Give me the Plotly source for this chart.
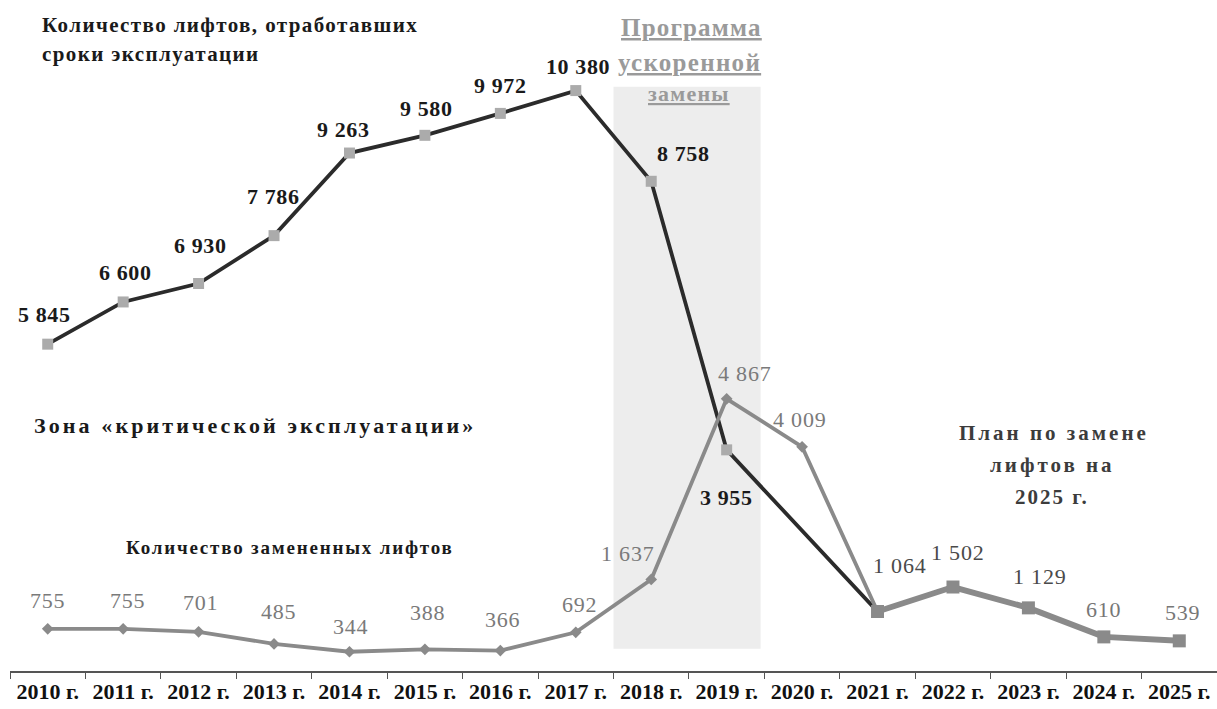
import plotly.graph_objects as go

# Years on the horizontal axis
years = [2010, 2011, 2012, 2013, 2014, 2015, 2016, 2017,
         2018, 2019, 2020, 2021, 2022, 2023, 2024, 2025]
year_labels = [f"{y} г." for y in years]

# Lifts that have exceeded their service life (no value for 2020)
expired = [5845, 6600, 6930, 7786, 9263, 9580, 9972, 10380,
           8758, 3955, None, 1064, 1502, 1129, 610, 539]

# Lifts actually replaced, 2010-2021
replaced = [755, 755, 701, 485, 344, 388, 366, 692,
            1637, 4867, 4009, 1064]

# Replacement plan, 2021-2025
plan_years = [2021, 2022, 2023, 2024, 2025]
plan = [1064, 1502, 1129, 610, 539]

xi = list(range(len(years)))
x_rep = xi[:len(replaced)]
x_plan = [years.index(y) for y in plan_years]

SERIF = "Liberation Serif"
PW, PH = 1207, 671  # plot area size in pixels


def fmt(v):
    return f"{v:,}".replace(",", " ")


def spaced(text, ls, extra=""):
    return f"<span style='letter-spacing:{ls}px;{extra}'>{text}</span>"


def caption(text, px, py, size, color, ls, anchor="left", extra=""):
    fig.add_annotation(xref="paper", yref="paper", x=px / PW, y=1 - py / PH,
                       xanchor=anchor, yanchor="middle", showarrow=False,
                       text=spaced(text, ls, extra),
                       font=dict(family=SERIF, size=size, color=color, weight="bold"))


fig = go.Figure()

# accelerated replacement programme zone
fig.add_shape(type="rect", xref="x", yref="y", x0=7.5, x1=9.45, y0=400, y1=10450,
              fillcolor="#ededed", line_width=0, layer="below")

fig.add_trace(go.Scatter(
    x=xi, y=expired, mode="lines+markers", connectgaps=True,
    line=dict(color="#2b2b2b", width=3.8),
    marker=dict(symbol="square", size=11, color="#ababab"),
    hoverinfo="skip", showlegend=False))

fig.add_trace(go.Scatter(
    x=x_rep, y=replaced, mode="lines+markers",
    line=dict(color="#8a8a8a", width=3.8),
    marker=dict(symbol="diamond", size=9, color="#8a8a8a"),
    hoverinfo="skip", showlegend=False))

fig.add_trace(go.Scatter(
    x=x_plan, y=plan, mode="lines+markers",
    line=dict(color="#8a8a8a", width=6),
    marker=dict(symbol="square", size=13, color="#8a8a8a"),
    hoverinfo="skip", showlegend=False))

# value labels for the expired-lifts line
exp_shift = {0: (-3, 30), 1: (2, 29), 2: (2, 38), 3: (-1, 39), 4: (-6, 24),
             5: (2, 27), 6: (0, 28), 7: (2, 24), 8: (32, 28), 9: (0, -48)}
for i, (dx, dy) in exp_shift.items():
    fig.add_annotation(x=i, y=expired[i], text=spaced(fmt(expired[i]), 0.6),
                       showarrow=False, xshift=dx, yshift=dy,
                       font=dict(family=SERIF, size=22, color="#1a1a1a", weight="bold"))

# value labels for the replaced-lifts line
rep_shift = {0: (0, 28), 1: (4, 28), 2: (2, 29), 3: (4, 32), 4: (1, 25),
             5: (3, 37), 6: (2, 31), 7: (4, 28), 8: (-23, 26), 9: (18, 25),
             10: (-2, 27)}
for i, (dx, dy) in rep_shift.items():
    fig.add_annotation(x=i, y=replaced[i], text=spaced(fmt(replaced[i]), 0.8),
                       showarrow=False, xshift=dx, yshift=dy,
                       font=dict(family=SERIF, size=22, color="#7a7a7a"))

# value labels for the plan line
plan_shift = [(22, 46), (5, 35), (12, 31), (0, 27), (3, 28)]
plan_col = ["#4a4a4a", "#4a4a4a", "#4a4a4a", "#777777", "#777777"]
for k, (dx, dy) in enumerate(plan_shift):
    fig.add_annotation(x=x_plan[k], y=plan[k], text=spaced(fmt(plan[k]), 0.8),
                       showarrow=False, xshift=dx, yshift=dy,
                       font=dict(family=SERIF, size=22, color=plan_col[k]))

# captions
caption("Количество лифтов, отработавших", 30, 25, 21, "#1a1a1a", 1.4)
caption("сроки эксплуатации", 30, 54, 21, "#1a1a1a", 1.4)
caption("Зона «критической эксплуатации»", 22, 425, 22, "#1a1a1a", 3.1)
caption("Количество замененных лифтов", 114, 547, 19, "#1a1a1a", 1.8)
caption("План по замене", 1044, 433, 21, "#3c3c3c", 3, anchor="center")
caption("лифтов на", 1042, 465, 21, "#3c3c3c", 3, anchor="center")
caption("2025 г.", 1042, 497, 21, "#3c3c3c", 2, anchor="center")
caption("Программа", 681, 27, 25, "#9a9a9a", 1.2, anchor="center",
        extra="text-decoration:underline")
caption("ускоренной", 679, 62, 25, "#9a9a9a", 1.3, anchor="center",
        extra="text-decoration:underline")
caption("замены", 679, 93, 22, "#9a9a9a", 1.2, anchor="center",
        extra="text-decoration:underline")

fig.update_xaxes(
    range=[-0.5, 15.5], tickmode="array", tickvals=xi, ticktext=year_labels,
    ticks="", showgrid=False, zeroline=False,
    showline=True, linecolor="#555555", linewidth=1.5,
    tickfont=dict(family=SERIF, size=22, color="#111111", weight="bold"),
    minor=dict(tick0=-0.5, dtick=1, ticks="outside", ticklen=6,
               tickcolor="#555555", tickwidth=1, showgrid=False),
)
fig.update_yaxes(range=[0, 12000], visible=False, showgrid=False, zeroline=False)

fig.update_layout(
    width=1217, height=709,
    margin=dict(l=10, r=0, t=0, b=38),
    paper_bgcolor="white", plot_bgcolor="white",
    showlegend=False,
)

fig.write_html("out.html")
